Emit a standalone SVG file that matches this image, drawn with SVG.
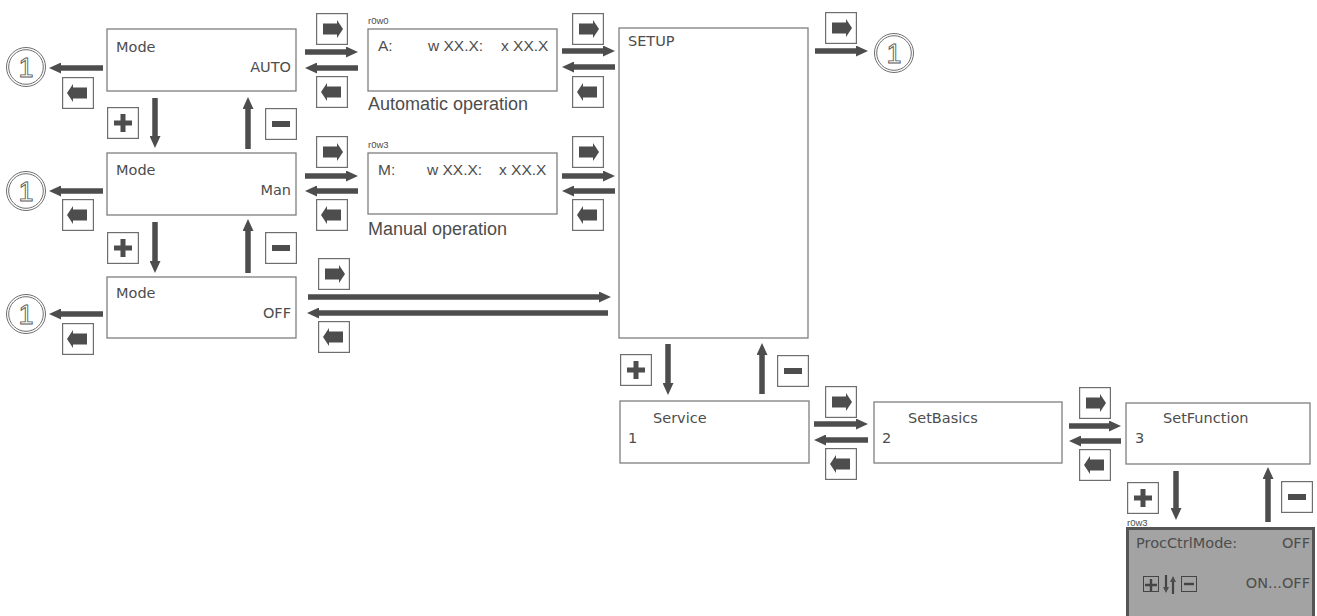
<svg xmlns="http://www.w3.org/2000/svg" xmlns:xlink="http://www.w3.org/1999/xlink" width="1317" height="616" viewBox="0 0 1317 616">
<style>
.box{fill:#fff;stroke:#7f7f7f;stroke-width:1.3}
.t{font-family:"DejaVu Sans",Verdana,sans-serif;font-size:14.5px;fill:#4d4d4d}
.h{font-family:"Liberation Sans",Arial,sans-serif;font-size:15.5px;fill:#4d4d4d}
.cap{font-family:"Liberation Sans",Arial,sans-serif;font-size:18px;fill:#4d4d4d}
.sm{font-family:"Liberation Sans",Arial,sans-serif;font-size:9.5px;fill:#4d4d4d}
.r{text-anchor:end}
.ar{stroke:#4d4d4d;stroke-width:5.5;fill:none;marker-end:url(#ah)}
.kb{fill:#fff;stroke:#6e6e6e;stroke-width:1.2}
.ki{fill:#4d4d4d}
.c1{fill:#fff;stroke:#6e6e6e;stroke-width:1}
.dig{font-family:"Liberation Sans",Arial,sans-serif;font-size:27px;fill:#fff;stroke:#5a5a5a;stroke-width:0.9;text-anchor:middle}
</style>
<defs>
<marker id="ah" markerUnits="userSpaceOnUse" markerWidth="12" markerHeight="11" refX="0" refY="5.5" orient="auto"><path d="M0,0 L12,5.5 L0,11 Z" fill="#4d4d4d"/></marker>
<marker id="ahs" markerUnits="userSpaceOnUse" markerWidth="6" markerHeight="6" refX="0" refY="3" orient="auto"><path d="M0,0 L6,3 L0,6 Z" fill="#4d4d4d"/></marker>
<g id="kr"><rect class="kb" x="0.6" y="0.6" width="30.8" height="30.8"/><path class="ki" d="M7,10.5 H21 V7 L27,16 L21,25 V21.5 H7 Z"/></g>
<g id="kl"><rect class="kb" x="0.6" y="0.6" width="30.8" height="30.8"/><path class="ki" d="M25,10.5 H11 V7 L5,16 L11,25 V21.5 H25 Z"/></g>
<g id="kp"><rect class="kb" x="0.6" y="0.6" width="30.8" height="30.8"/><path class="ki" d="M13.5,7 h5 v6.5 h6.5 v5 h-6.5 v6.5 h-5 v-6.5 h-6.5 v-5 h6.5 Z"/></g>
<g id="km"><rect class="kb" x="0.6" y="0.6" width="30.8" height="30.8"/><rect class="ki" x="7" y="13" width="18" height="6"/></g>
<g id="one"><circle class="c1" r="19.5"/><circle class="c1" r="17.3"/><text class="dig" y="9.5">1</text></g>
</defs>

<g id="circles">
<use xlink:href="#one" x="26" y="67"/>
<use xlink:href="#one" x="26" y="191"/>
<use xlink:href="#one" x="26" y="314"/>
<use xlink:href="#one" x="894" y="53"/>
</g>

<g id="node-mode-auto"><rect class="box" x="107" y="29" width="189" height="62"/><text class="t" x="116" y="52">Mode</text><text class="t r" x="291" y="72">AUTO</text></g>
<g id="node-mode-man"><rect class="box" x="107" y="153" width="189" height="62"/><text class="t" x="116" y="175">Mode</text><text class="t r" x="291" y="195">Man</text></g>
<g id="node-mode-off"><rect class="box" x="107" y="277" width="189" height="61"/><text class="t" x="116" y="298">Mode</text><text class="t r" x="291" y="318">OFF</text></g>

<g id="node-auto"><text class="sm" x="368" y="24">r0w0</text><rect class="box" x="368" y="29" width="189" height="62"/><text class="h" x="378" y="51">A:</text><text class="h" x="428" y="51">w XX.X:</text><text class="h" x="501" y="51">x XX.X</text><text class="cap" x="368" y="110">Automatic operation</text></g>
<g id="node-man"><text class="sm" x="368" y="148">r0w3</text><rect class="box" x="368" y="153" width="189" height="61"/><text class="h" x="378" y="175">M:</text><text class="h" x="427" y="175">w XX.X:</text><text class="h" x="499" y="175">x XX.X</text><text class="cap" x="368" y="235">Manual operation</text></g>

<g id="node-setup"><rect class="box" x="619" y="28" width="189" height="310"/><text class="t" x="628" y="46">SETUP</text></g>
<g id="node-service"><rect class="box" x="620" y="401" width="189" height="62"/><text class="t" x="653" y="423">Service</text><text class="t" x="628" y="443">1</text></g>
<g id="node-setbasics"><rect class="box" x="874" y="402" width="188" height="61"/><text class="t" x="908" y="423">SetBasics</text><text class="t" x="882" y="443">2</text></g>
<g id="node-setfunction"><rect class="box" x="1126" y="403" width="184" height="61"/><text class="t" x="1163" y="423">SetFunction</text><text class="t" x="1135" y="443">3</text></g>

<g id="node-procctrl"><text class="sm" x="1127" y="526">r0w3</text><rect x="1127.5" y="528.5" width="186" height="100" fill="#a3a3a3" stroke="#555" stroke-width="3"/><text class="t" x="1136" y="548" fill="#444">ProcCtrlMode:</text><text class="t r" x="1310" y="548">OFF</text><text class="t r" x="1310" y="588">ON...OFF</text>
<rect x="1143.5" y="576.5" width="15" height="15" fill="none" stroke="#444" stroke-width="1"/><path d="M1149.8,579 h2.4 v4.8 h4.8 v2.4 h-4.8 v4.8 h-2.4 v-4.8 h-4.8 v-2.4 h4.8 Z" fill="#444"/>
<path d="M1166,575 V587" stroke="#444" stroke-width="2.2" marker-end="url(#ahs)"/>
<path d="M1173,594 V582" stroke="#444" stroke-width="2.2" marker-end="url(#ahs)"/>
<rect x="1181.5" y="576.5" width="15" height="15" fill="none" stroke="#444" stroke-width="1"/><rect x="1184" y="582.8" width="10" height="2.4" fill="#444"/>
</g>

<g id="keys">
<use xlink:href="#kl" x="62" y="77"/>
<use xlink:href="#kl" x="62" y="199"/>
<use xlink:href="#kl" x="62" y="323"/>
<use xlink:href="#kr" x="316" y="13"/>
<use xlink:href="#kl" x="316" y="76"/>
<use xlink:href="#kr" x="316" y="136"/>
<use xlink:href="#kl" x="316" y="199"/>
<use xlink:href="#kr" x="318" y="258"/>
<use xlink:href="#kl" x="318" y="321"/>
<use xlink:href="#kr" x="572" y="13"/>
<use xlink:href="#kl" x="572" y="76"/>
<use xlink:href="#kr" x="572" y="136"/>
<use xlink:href="#kl" x="572" y="199"/>
<use xlink:href="#kr" x="825" y="12"/>
<use xlink:href="#kp" x="107" y="107"/>
<use xlink:href="#km" x="265" y="108"/>
<use xlink:href="#kp" x="107" y="232"/>
<use xlink:href="#km" x="265" y="232"/>
<use xlink:href="#kp" x="620" y="354"/>
<use xlink:href="#km" x="777" y="355"/>
<use xlink:href="#kr" x="825" y="386"/>
<use xlink:href="#kl" x="825" y="448"/>
<use xlink:href="#kr" x="1079" y="387"/>
<use xlink:href="#kl" x="1079" y="449"/>
<use xlink:href="#kp" x="1127" y="482"/>
<use xlink:href="#km" x="1281" y="481"/>
</g>

<g id="connectors">
<line class="ar" x1="103" y1="68" x2="61" y2="68"/>
<line class="ar" x1="103" y1="191" x2="61" y2="191"/>
<line class="ar" x1="103" y1="314" x2="61" y2="314"/>
<line class="ar" x1="155" y1="98" x2="155" y2="136"/>
<line class="ar" x1="248" y1="149" x2="248" y2="109"/>
<line class="ar" x1="155" y1="222" x2="155" y2="261"/>
<line class="ar" x1="248" y1="273" x2="248" y2="231"/>
<line class="ar" x1="305" y1="52" x2="346" y2="52"/>
<line class="ar" x1="358" y1="68" x2="317" y2="68"/>
<line class="ar" x1="305" y1="176" x2="346" y2="176"/>
<line class="ar" x1="358" y1="191" x2="317" y2="191"/>
<line class="ar" x1="308" y1="297" x2="599" y2="297"/>
<line class="ar" x1="608" y1="313" x2="319" y2="313"/>
<line class="ar" x1="562" y1="51" x2="603" y2="51"/>
<line class="ar" x1="615" y1="67" x2="574" y2="67"/>
<line class="ar" x1="562" y1="176" x2="603" y2="176"/>
<line class="ar" x1="615" y1="191" x2="574" y2="191"/>
<line class="ar" x1="815" y1="51" x2="856" y2="51"/>
<line class="ar" x1="668" y1="344" x2="668" y2="383"/>
<line class="ar" x1="762" y1="394" x2="762" y2="355"/>
<line class="ar" x1="814" y1="424" x2="856" y2="424"/>
<line class="ar" x1="868" y1="440" x2="826" y2="440"/>
<line class="ar" x1="1069" y1="426" x2="1109" y2="426"/>
<line class="ar" x1="1121" y1="441" x2="1081" y2="441"/>
<line class="ar" x1="1176" y1="471" x2="1176" y2="508"/>
<line class="ar" x1="1268" y1="522" x2="1268" y2="479"/>
</g>
</svg>
